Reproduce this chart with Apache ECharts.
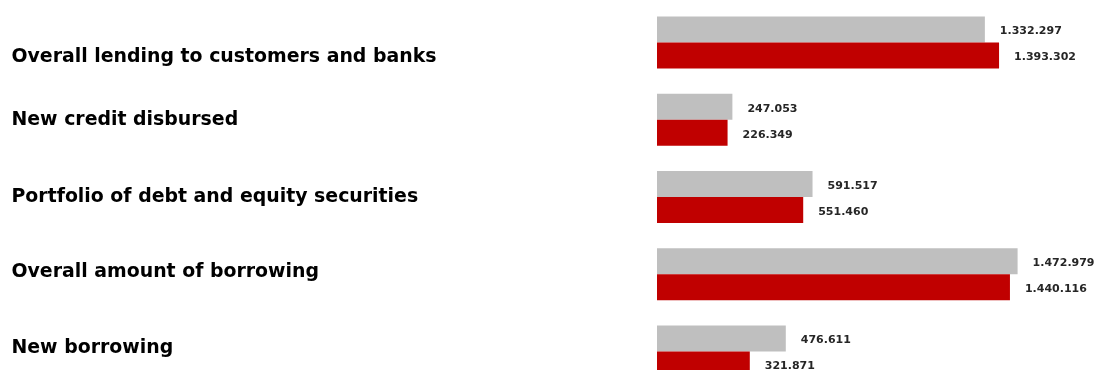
<!DOCTYPE html>
<html>
<head>
<meta charset="utf-8">
<title>Lending and borrowing</title>
<script src="https://cdn.jsdelivr.net/npm/echarts@6/dist/echarts.min.js"></script>
<style>
  html, body { margin: 0; padding: 0; background: #ffffff; }
  #chart { width: 1096px; height: 370px; }
</style>
</head>
<body>
<div id="chart"></div>
<script>
// Category names, top to bottom
const categories = [
  'Overall lending to customers and banks',
  'New credit disbursed',
  'Portfolio of debt and equity securities',
  'Overall amount of borrowing',
  'New borrowing'
];

// Prior period (grey bars)
const priorValues = [1332297, 247053, 591517, 1472979, 476611];

// Current period (red bars)
const currentValues = [1393302, 226349, 551460, 1440116, 321871];

// Value axis range
const AXIS_MIN = -77000;
const AXIS_MAX = 1810000;

// Small vertical nudges for the category labels (px, positive = down)
const LABEL_NUDGE = [14.5, 0.5, 0, -2, -3.5];

// 1.332.297 style thousands separators
function fmt(v) {
  return String(Math.round(v)).replace(/\B(?=(\d{3})+(?!\d))/g, '.');
}

const rich = {};
LABEL_NUDGE.forEach(function (d, i) {
  rich['c' + i] = {
    fontFamily: 'DejaVu Sans',
    fontWeight: 'bold',
    fontSize: 18.9,
    color: '#000000',
    padding: d >= 0 ? [2 * d, 0, 0, 0] : [0, 0, -2 * d, 0]
  };
});

const valueLabel = {
  show: true,
  position: 'right',
  distance: 15,
  offset: [0, 2],
  fontFamily: 'DejaVu Sans',
  fontWeight: 'bold',
  fontSize: 11,
  color: '#262626',
  formatter: function (p) { return fmt(p.value); }
};

const chart = echarts.init(document.getElementById('chart'), null, { renderer: 'canvas' });

chart.setOption({
  backgroundColor: '#ffffff',
  animation: false,
  grid: {
    left: 657,
    right: 0,
    top: 4,
    height: 386,
    outerBoundsMode: 'none',
    containLabel: false
  },
  xAxis: {
    type: 'value',
    min: AXIS_MIN,
    max: AXIS_MAX,
    startValue: AXIS_MIN,
    show: false,
    splitLine: { show: false }
  },
  yAxis: {
    type: 'category',
    data: categories,
    inverse: true,
    axisLine: { show: false },
    axisTick: { show: false },
    splitLine: { show: false },
    axisLabel: {
      align: 'left',
      margin: 645.5,
      rich: rich,
      formatter: function (value, index) {
        return '{c' + index + '|' + value + '}';
      }
    }
  },
  series: [
    {
      name: 'Prior',
      type: 'bar',
      data: priorValues,
      barWidth: 26,
      barGap: '0%',
      itemStyle: { color: '#BFBFBF' },
      label: valueLabel
    },
    {
      name: 'Current',
      type: 'bar',
      data: currentValues,
      barWidth: 26,
      barGap: '0%',
      itemStyle: { color: '#C00000' },
      label: valueLabel
    }
  ]
});
</script>
</body>
</html>
